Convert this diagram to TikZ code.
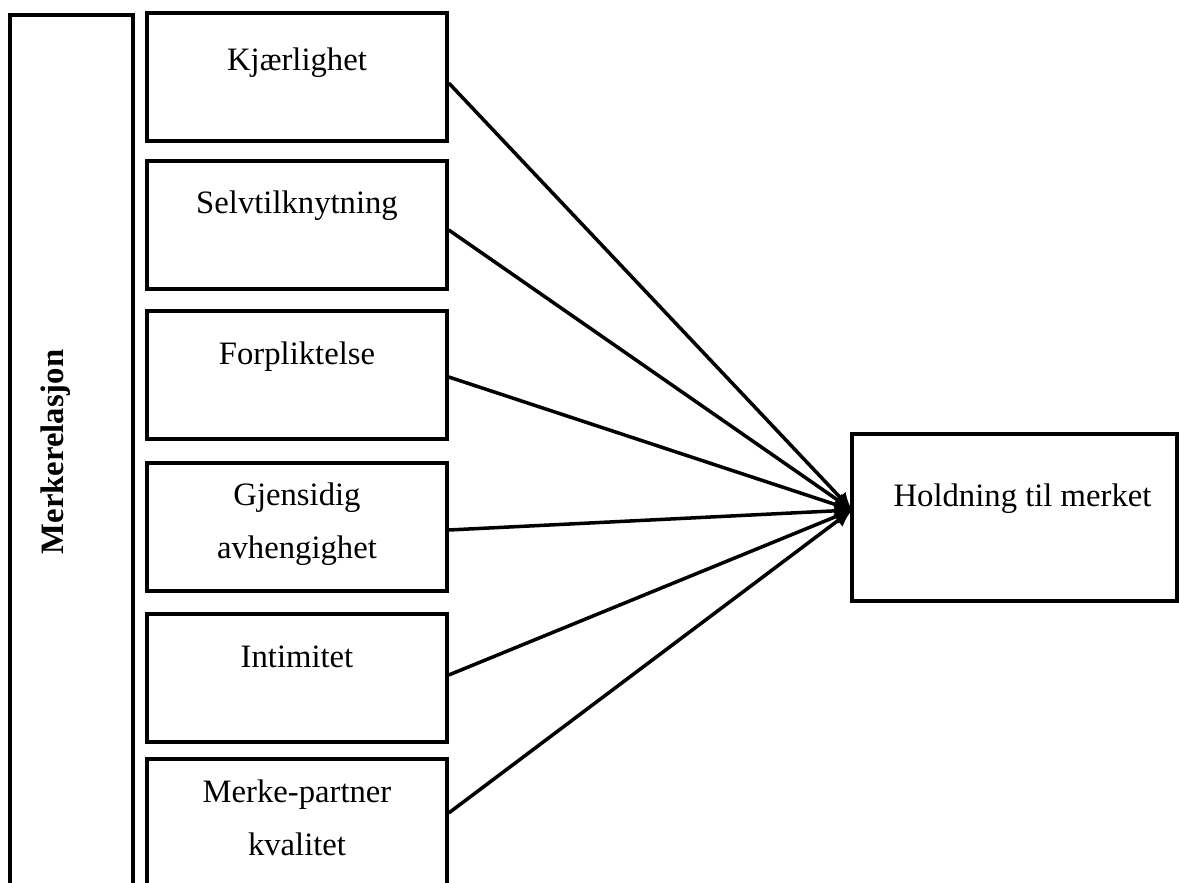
\documentclass[tikz,border=0pt]{standalone}
\usepackage{fontspec}
\setmainfont{Liberation Serif}
\usetikzlibrary{arrows.meta,positioning}

\begin{document}
\begin{tikzpicture}
[x=0.02cm,y=0.02cm,
factor/.style={rectangle,draw=black,line width=2pt,minimum width=6cm,minimum height=2.56cm},
result/.style={rectangle,draw=black,line width=2pt,minimum width=6.5cm,minimum height=3.34cm},
txt/.style={anchor=base,align=center,font=\fontsize{18.6}{30}\selectfont},
link/.style={line width=2pt,-{Latex[length=10pt,width=9pt]}}]
\useasboundingbox (0,0) rectangle (1179,882);
\clip (0,0) rectangle (1179,882);
% left frame
\node (rel) at (71.5,869) [anchor=north,draw=black,line width=2pt,minimum width=2.46cm,minimum height=18.4cm] {};
\node (relt) at (63,430) [rotate=90,anchor=base,font=\fontsize{18.6}{30}\selectfont\bfseries] {Merkerelasjon};
% factors
\node (kj) at (297,805) [factor] {};
\node (sv) at (297,657) [factor] {};
\node (fp) at (297,507) [factor] {};
\node (ga) at (297,355) [factor] {};
\node (in) at (297,204) [factor] {};
\node (mp) at (297,59) [factor] {};
\node (kjt) at ([yshift=-1.18cm]kj.north) [txt] {Kjærlighet};
\node (svt) at ([yshift=-1.08cm]sv.north) [txt] {Selvtilknytning};
\node (fpt) at ([yshift=-1.1cm]fp.north) [txt] {Forpliktelse};
% two lines: base is the last line
\node (gat) at ([yshift=-1.94cm]ga.north) [txt] {Gjensidig\\avhengighet};
\node (int) at ([yshift=-1.1cm]in.north) [txt] {Intimitet};
\node (mpt) at ([yshift=-1.96cm]mp.north) [txt] {Merke-partner\\kvalitet};
% outcome
\node (hold) at (1014.5,364.5) [result] {};
\node (holdt) at ([xshift=0.16cm,yshift=-1.48cm]hold.north) [txt] {Holdning til merket};
\coordinate (tip) at (852,372);
\draw [link] ([yshift=-0.12cm]kj.east) -- (tip);
\draw [link] ([yshift=-0.1cm]sv.east) -- (tip);
\draw [link] ([yshift=-0.04cm]fp.east) -- (tip);
\draw [link] ([yshift=-0.06cm]ga.east) -- (tip);
\draw [link] ([yshift=0.06cm]in.east) -- (tip);
\draw [link] ([yshift=0.2cm]mp.east) -- (tip);
\end{tikzpicture}
\end{document}
